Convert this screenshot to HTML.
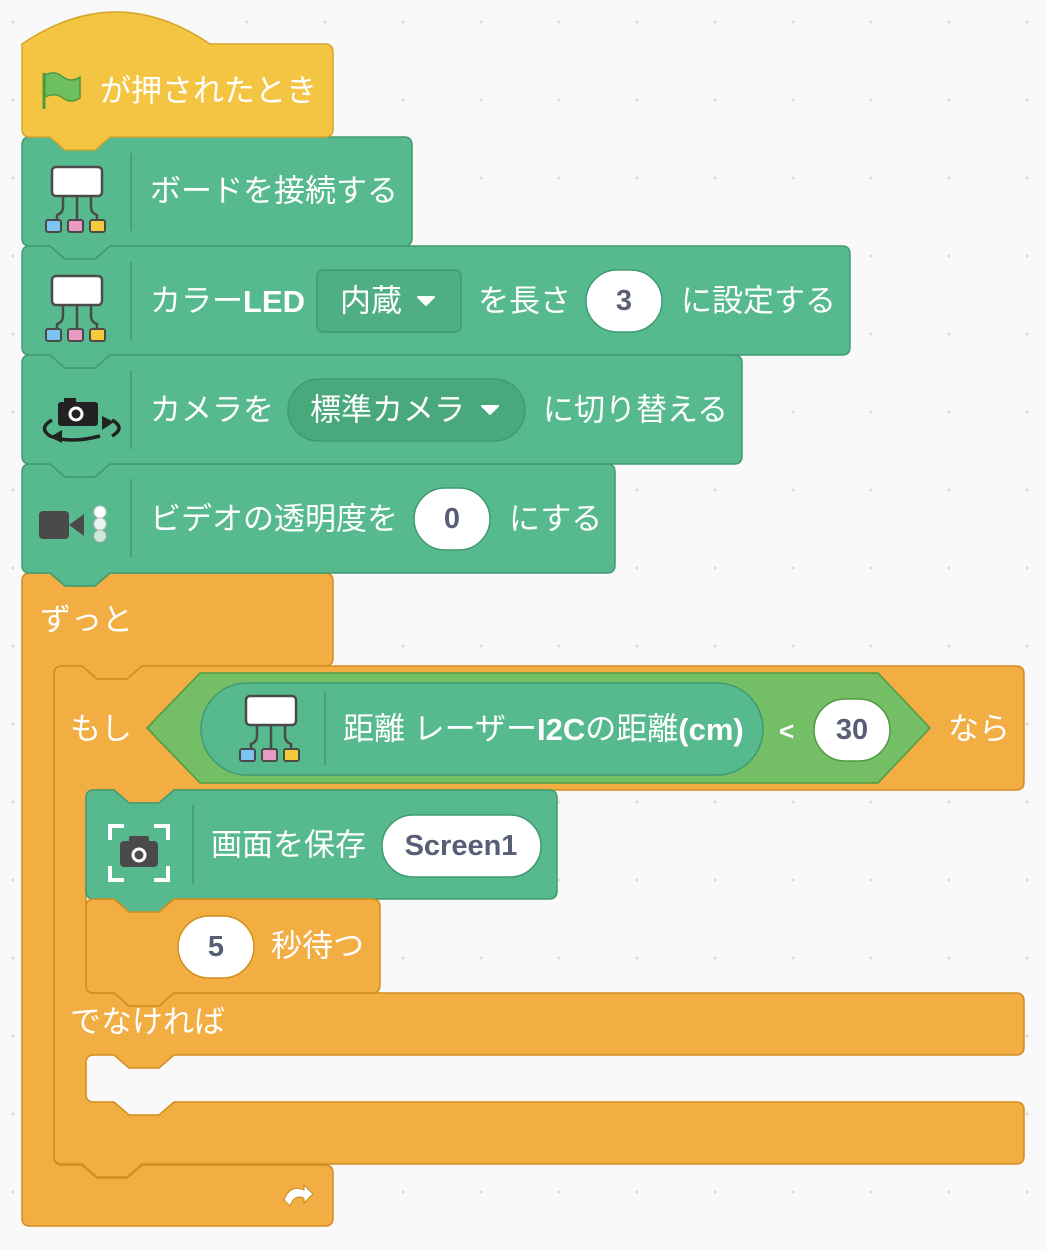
<!DOCTYPE html>
<html><head><meta charset="utf-8"><style>
html,body{margin:0;padding:0;background:#f9f9f9;}
svg{display:block;}
text{font-family:"Liberation Sans","Noto Sans CJK JP",sans-serif;font-size:31px;fill:#fff;dominant-baseline:central;}
.v{fill:#575E75;font-weight:bold;font-size:29px;text-anchor:middle;}
.g{fill:#56BA8E;stroke:#3f9a72;stroke-width:1.5;}
.o{fill:#F2AE42;stroke:#D08E1F;stroke-width:1.5;}
.in{fill:#fff;stroke:#3f9a72;stroke-width:1.5;}
</style></head><body>
<svg width="1046" height="1250" viewBox="0 0 1046 1250" xmlns="http://www.w3.org/2000/svg">
<defs>
<pattern id="dots" x="13" y="22" width="78" height="78" patternUnits="userSpaceOnUse"><circle cx="0" cy="0" r="1.5" fill="#dcdcdc"/><circle cx="78" cy="0" r="1.5" fill="#dcdcdc"/><circle cx="0" cy="78" r="1.5" fill="#dcdcdc"/><circle cx="78" cy="78" r="1.5" fill="#dcdcdc"/></pattern>
<g id="board">
<path d="M11,29 L11,40 Q11,46 5,48 L5,54 M25,29 L25,54 M39,29 L39,40 Q39,46 45,48 L45,54" stroke="#4a4a4a" stroke-width="2.5" fill="none"/>
<rect x="0" y="0" width="50" height="29" rx="4" fill="#fff" stroke="#4a4a4a" stroke-width="2.5"/>
<rect x="-6" y="53" width="15" height="12" rx="2" fill="#7cc4f2" stroke="#4a4a4a" stroke-width="2"/>
<rect x="16" y="53" width="15" height="12" rx="2" fill="#e99ac3" stroke="#4a4a4a" stroke-width="2"/>
<rect x="38" y="53" width="15" height="12" rx="2" fill="#f5cb3c" stroke="#4a4a4a" stroke-width="2"/>
</g>
</defs>
<rect width="1046" height="1250" fill="url(#dots)"/>

<!-- forever -->
<path class="o" d="M22,581 Q22,573 30,573 L50,573 L65,586 L95,586 L110,573 L325,573 Q333,573 333,581 L333,658 Q333,666 325,666 L142,666 L127,679 L97,679 L82,666 L62,666 Q54,666 54,674 L54,1157 Q54,1165 62,1165 L82,1165 L97,1178 L127,1178 L142,1165 L325,1165 Q333,1165 333,1173 L333,1218 Q333,1226 325,1226 L30,1226 Q22,1226 22,1218 Z"/>
<!-- if else -->
<path class="o" d="M54,674 Q54,666 62,666 L82,666 L97,679 L127,679 L142,666 L1016,666 Q1024,666 1024,674 L1024,782 Q1024,790 1016,790 L174,790 L159,803 L129,803 L114,790 L94,790 Q86,790 86,798 L86,985 Q86,993 94,993 L114,993 L129,1006 L159,1006 L174,993 L1016,993 Q1024,993 1024,1001 L1024,1047 Q1024,1055 1016,1055 L174,1055 L159,1068 L129,1068 L114,1055 L94,1055 Q86,1055 86,1063 L86,1094 Q86,1102 94,1102 L114,1102 L129,1115 L159,1115 L174,1102 L1016,1102 Q1024,1102 1024,1110 L1024,1156 Q1024,1164 1016,1164 L142,1164 L127,1177 L97,1177 L82,1164 L62,1164 Q54,1164 54,1156 Z"/>
<text x="40" y="620">ずっと</text>
<path d="M284,1200 q6,-16 20,-10 l0,-5 l9,9 l-9,9 l0,-5 q-10,-4 -14,8 z" fill="#fff" stroke="#c78a20" stroke-width="1"/>
<text x="70" y="729">もし</text>
<text x="948" y="729">なら</text>
<text x="70" y="1022">でなければ</text>

<!-- condition -->
<path d="M147,728 L200,673 L878,673 L930,728 L878,783 L200,783 Z" fill="#74BF65" stroke="#4f9a42" stroke-width="1.5"/>
<rect x="201" y="683" width="562" height="92" rx="46" class="g"/>
<use href="#board" x="246" y="696"/>
<line x1="325" y1="692" x2="325" y2="766" stroke="#3f9a72" stroke-width="1.5"/>
<text x="343" y="729">距離 レーザー<tspan font-weight="bold">I2C</tspan>の距離<tspan font-weight="bold">(cm)</tspan></text>
<text x="779" y="731" style="font-weight:bold;font-size:26px">&lt;</text>
<rect x="814" y="699" width="76" height="62" rx="31" class="in" style="stroke:#4f9a42"/>
<text x="852" y="730" class="v">30</text>

<!-- camera save -->
<path class="g" d="M86,798 Q86,790 94,790 L114,790 L129,803 L159,803 L174,790 L549,790 Q557,790 557,798 L557,891 Q557,899 549,899 L174,899 L159,912 L129,912 L114,899 L94,899 Q86,899 86,891 Z"/>
<line x1="193" y1="805" x2="193" y2="884" stroke="#3f9a72" stroke-width="1.5"/>
<path d="M110,840 v-14 h14 M154,826 h14 v14 M110,866 v14 h14 M154,880 h14 v-14" stroke="#fff" stroke-width="4" fill="none"/>
<rect x="120" y="841" width="38" height="26" rx="4" fill="#4a4a4a"/><rect x="129" y="836" width="20" height="8" rx="2" fill="#4a4a4a"/>
<circle cx="139" cy="855" r="6" fill="none" stroke="#fff" stroke-width="3"/>
<text x="211" y="845">画面を保存</text>
<rect x="382" y="815" width="159" height="62" rx="31" class="in"/>
<text x="461" y="846" class="v">Screen1</text>

<!-- wait -->
<path class="o" d="M86,907 Q86,899 94,899 L114,899 L129,912 L159,912 L174,899 L372,899 Q380,899 380,907 L380,985 Q380,993 372,993 L174,993 L159,1006 L129,1006 L114,993 L94,993 Q86,993 86,985 Z"/>
<rect x="178" y="916" width="76" height="62" rx="31" class="in" style="stroke:#D08E1F"/>
<text x="216" y="947" class="v">5</text>
<text x="271" y="946">秒待つ</text>

<!-- block4 -->
<path class="g" d="M22,472 Q22,464 30,464 L50,464 L65,477 L95,477 L110,464 L607,464 Q615,464 615,472 L615,565 Q615,573 607,573 L110,573 L95,586 L65,586 L50,573 L30,573 Q22,573 22,565 Z"/>
<line x1="131" y1="479" x2="131" y2="558" stroke="#3f9a72" stroke-width="1.5"/>
<rect x="39" y="511" width="30" height="28" rx="4" fill="#4a4a4a"/><path d="M69,525 L84,514 L84,536 Z" fill="#4a4a4a"/>
<circle cx="100" cy="512" r="6" fill="#fff" stroke="#ccc"/><circle cx="100" cy="524" r="6" fill="#e9f5ef" stroke="#ccc"/><circle cx="100" cy="536" r="6" fill="#cfe9db" stroke="#bbb"/>
<text x="150" y="519">ビデオの透明度を</text>
<rect x="414" y="488" width="76" height="62" rx="31" class="in"/>
<text x="452" y="519" class="v">0</text>
<text x="509" y="519">にする</text>

<!-- block3 -->
<path class="g" d="M22,363 Q22,355 30,355 L50,355 L65,368 L95,368 L110,355 L734,355 Q742,355 742,363 L742,456 Q742,464 734,464 L110,464 L95,477 L65,477 L50,464 L30,464 Q22,464 22,456 Z"/>
<line x1="131" y1="370" x2="131" y2="449" stroke="#3f9a72" stroke-width="1.5"/>
<rect x="58" y="402" width="40" height="24" rx="3" fill="#222"/><rect x="64" y="398" width="12" height="6" fill="#222"/>
<circle cx="76" cy="414" r="6" fill="none" stroke="#fff" stroke-width="3"/>
<path d="M52,420 Q38,428 50,436 Q70,444 100,436 M112,420 Q126,428 112,436" stroke="#222" stroke-width="3.5" fill="none"/>
<path d="M62,430 L50,437 L62,443 Z M102,430 L114,422 L102,416 Z" fill="#222"/>
<text x="150" y="410">カメラを</text>
<rect x="288" y="379" width="237" height="62" rx="31" fill="#4aa87d" stroke="#3f9a72" stroke-width="1.5"/>
<text x="310" y="410">標準カメラ</text>
<path d="M482,406 L498,406 L490,414 Z" fill="#fff" stroke="#fff" stroke-width="2" stroke-linejoin="round"/>
<text x="543" y="410">に切り替える</text>

<!-- block2 -->
<path class="g" d="M22,254 Q22,246 30,246 L50,246 L65,259 L95,259 L110,246 L842,246 Q850,246 850,254 L850,347 Q850,355 842,355 L110,355 L95,368 L65,368 L50,355 L30,355 Q22,355 22,347 Z"/>
<line x1="131" y1="262" x2="131" y2="340" stroke="#3f9a72" stroke-width="1.5"/>
<use href="#board" x="52" y="276"/>
<text x="150" y="301">カラー<tspan font-weight="bold">LED</tspan></text>
<rect x="317" y="270" width="144" height="62" rx="6" fill="#4fae84" stroke="#3f9a72" stroke-width="1.5"/>
<text x="340" y="301">内蔵</text>
<path d="M418,297 L434,297 L426,305 Z" fill="#fff" stroke="#fff" stroke-width="2" stroke-linejoin="round"/>
<text x="478" y="301">を長さ</text>
<rect x="586" y="270" width="76" height="62" rx="31" class="in"/>
<text x="624" y="301" class="v">3</text>
<text x="681" y="301">に設定する</text>

<!-- block1 -->
<path class="g" d="M22,145 Q22,137 30,137 L50,137 L65,150 L95,150 L110,137 L404,137 Q412,137 412,145 L412,238 Q412,246 404,246 L110,246 L95,259 L65,259 L50,246 L30,246 Q22,246 22,238 Z"/>
<line x1="131" y1="153" x2="131" y2="231" stroke="#3f9a72" stroke-width="1.5"/>
<use href="#board" x="52" y="167"/>
<text x="150" y="191">ボードを接続する</text>

<!-- hat -->
<path d="M22,44 Q116,-20 210,44 L325,44 Q333,44 333,52 L333,129 Q333,137 325,137 L110,137 L95,150 L65,150 L50,137 L30,137 Q22,137 22,129 Z" fill="#F4C443" stroke="#D6A62A" stroke-width="1.5"/>
<line x1="44" y1="73" x2="44" y2="109" stroke="#4e9a3f" stroke-width="3"/>
<path d="M45,75 Q55,70 63,77 Q71,83 80,77 L80,98 Q71,104 63,98 Q55,92 45,97 Z" fill="#6ebf5f" stroke="#4e9a3f" stroke-width="1.5"/>
<text x="100" y="91">が押されたとき</text>
</svg>
</body></html>
